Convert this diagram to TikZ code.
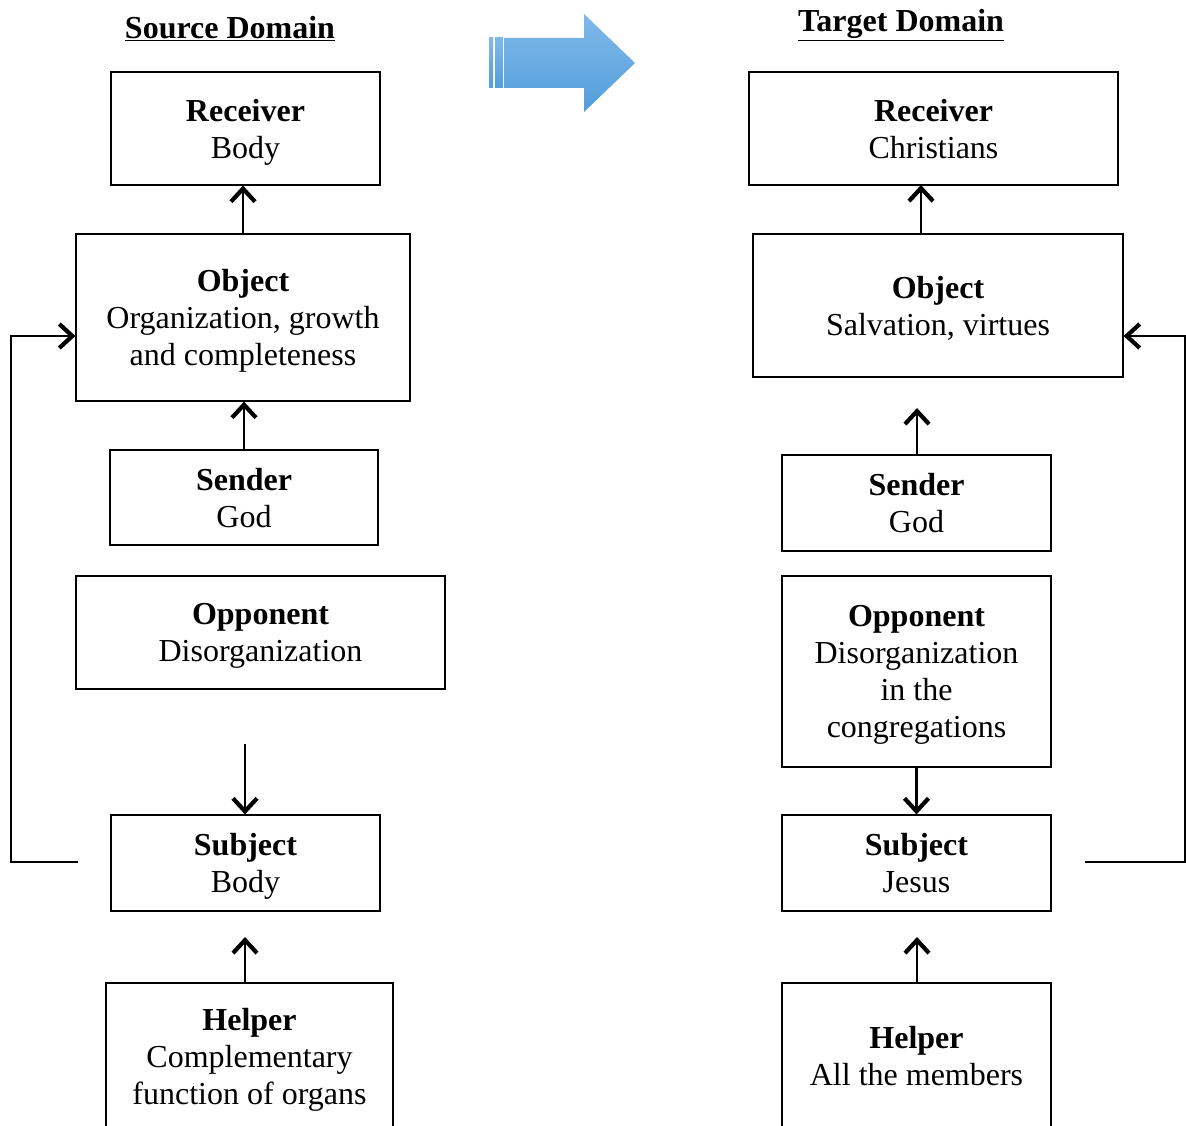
\documentclass[tikz,border=0pt]{standalone}
\usepackage{fontspec}
\setmainfont{Liberation Serif}
\usetikzlibrary{arrows.meta}
\definecolor{arrtop}{HTML}{80B9E8}
\definecolor{arrbot}{HTML}{529EDB}

\begin{document}
\begin{tikzpicture}[x=1pt,y=-1pt,
		box/.style={draw,line width=1.2pt,inner sep=0pt,align=center,font=\fontsize{32}{37}\selectfont,text depth=0pt},
		arr/.style={line width=2.2pt,-{Straight Barb[length=13pt,width=24pt,line width=4.2pt]}},
		ttl/.style={font=\fontsize{32}{37}\selectfont\bfseries}]
		\useasboundingbox (0,0) rectangle (1186,1126);
		\node[ttl] (sTitle) at (230,29) {\underline{Source Domain}};
		\node[ttl] (tTitle) at (901,25) {\underline{Target Domain}};
		\shade[top color=arrtop,bottom color=arrbot] (504,38) -- (584,38) -- (584,14) -- (635,63) -- (584,112) -- (584,88) -- (504,88) -- cycle;
		\shade[top color=arrtop,bottom color=arrbot] (495,38) rectangle (503,88);
		\shade[top color=arrtop,bottom color=arrbot] (489,38) rectangle (493,88);
		\node[box,minimum width=269pt,minimum height=113pt] (sRec) at (245.5,128.5) {\textbf{Receiver}\\Body};
		\node[box,minimum width=334pt,minimum height=167pt] (sObj) at (243,317.5) {\textbf{Object}\\Organization, growth\\and completeness};
		\node[box,minimum width=268pt,minimum height=95pt] (sSend) at (244,497.5) {\textbf{Sender}\\God};
		\node[box,minimum width=369pt,minimum height=113pt] (sOpp) at (260.5,632.5) {\textbf{Opponent}\\Disorganization};
		\node[box,minimum width=269pt,minimum height=96pt] (sSubj) at (245.5,863) {\textbf{Subject}\\Body};
		\node[box,minimum width=287pt,minimum height=146pt] (sHelp) at (249.5,1056) {\textbf{Helper}\\Complementary\\function of organs};
		\node[box,minimum width=369pt,minimum height=113pt] (tRec) at (933.5,128.5) {\textbf{Receiver}\\Christians};
		\node[box,minimum width=370pt,minimum height=143pt] (tObj) at (938,305.5) {\textbf{Object}\\Salvation, virtues};
		\node[box,minimum width=269pt,minimum height=96pt] (tSend) at (916.5,503) {\textbf{Sender}\\God};
		\node[box,minimum width=269pt,minimum height=191pt] (tOpp) at (916.5,671.5) {\textbf{Opponent}\\Disorganization\\in the\\congregations};
		\node[box,minimum width=269pt,minimum height=96pt] (tSubj) at (916.5,863) {\textbf{Subject}\\Jesus};
		\node[box,minimum width=269pt,minimum height=146pt] (tHelp) at (916.5,1056) {\textbf{Helper}\\All the members};
		\coordinate (sOppEnd) at (245,744);
		\coordinate (sSubjTip) at (245,937);
		\coordinate (sLoop) at (78,862);
		\coordinate (sTurn) at (11,336);
		\coordinate (tRecIn) at (921,185);
		\coordinate (tObjTip) at (917,408);
		\coordinate (tSubjTip) at (917,937);
		\coordinate (tLoop) at (1085,862);
		\coordinate (tTurn) at (1185,336);
		\draw[arr] (sObj.north) -- (sObj.north |- sRec.south);
		\draw[arr] (sSend.north) -- (sSend.north |- sObj.south);
		\draw[arr] (sOppEnd) -- (sOppEnd |- sSubj.north);
		\draw[arr] (sSubjTip |- sHelp.north) -- (sSubjTip);
		\draw[arr] (sLoop) -| (sTurn) -- (sTurn -| sObj.west);
		\draw[arr] (tRecIn |- tObj.north) -- (tRecIn);
		\draw[arr] (tObjTip |- tSend.north) -- (tObjTip);
		\draw[arr] (tOpp.south) -- (tSubj.north);
		\draw[arr] (tSubjTip |- tHelp.north) -- (tSubjTip);
		\draw[arr] (tLoop) -| (tTurn) -- (tTurn -| tObj.east);
	    \end{tikzpicture}
\end{document}
